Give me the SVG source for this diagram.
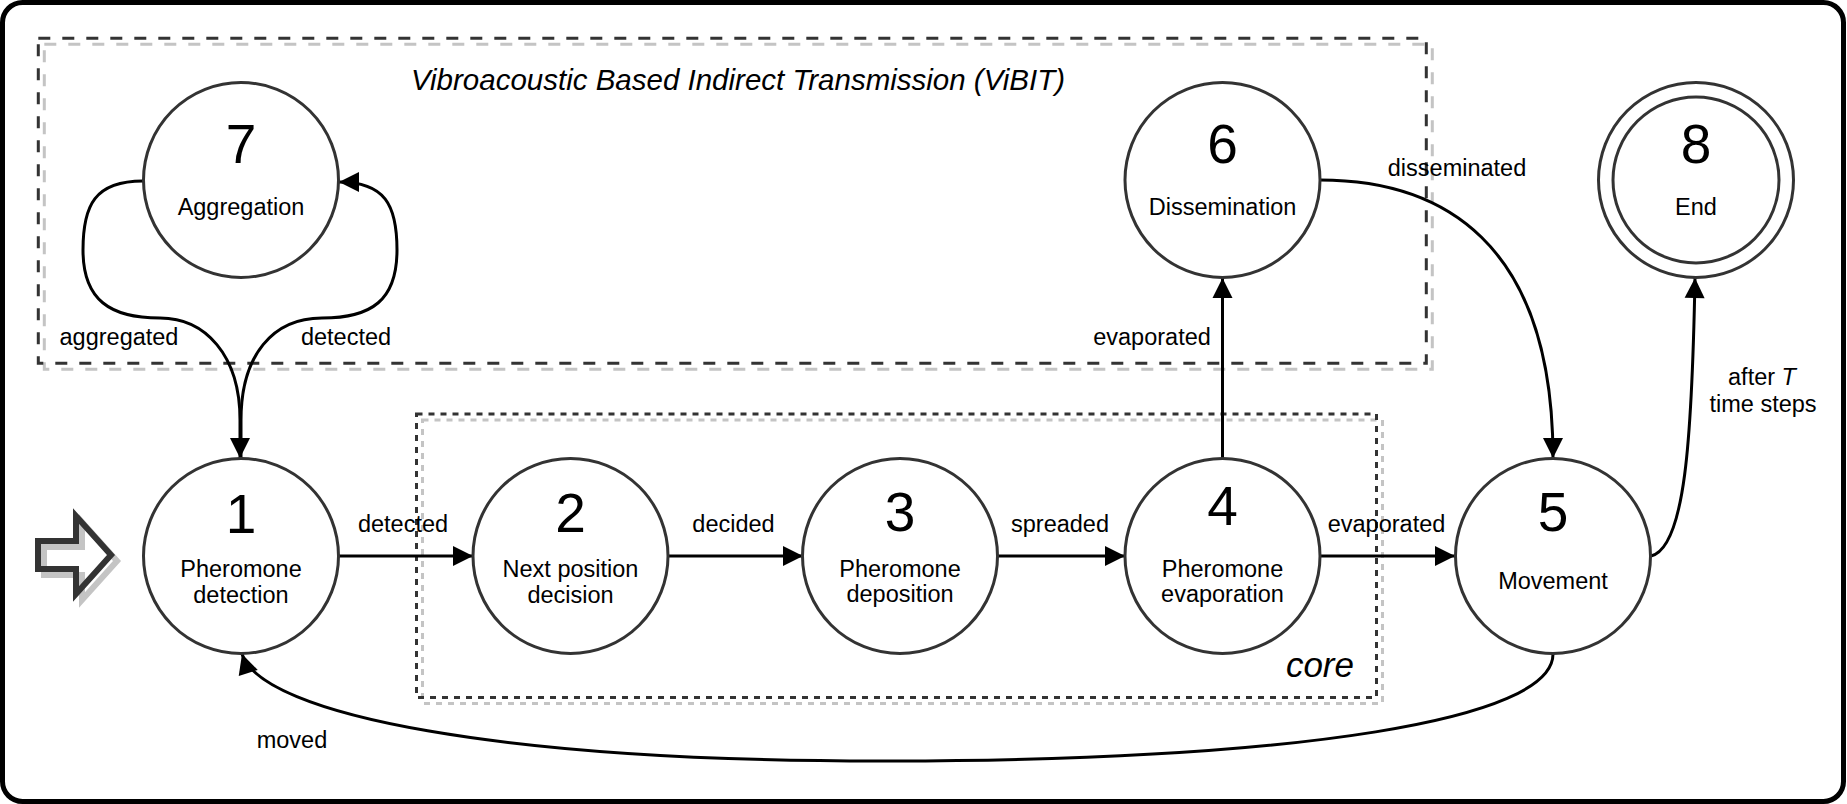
<svg xmlns="http://www.w3.org/2000/svg" width="1847" height="804" viewBox="0 0 1847 804">
<style>
text{font-family:"Liberation Sans",Arial,sans-serif;fill:#000}
.num{font-size:55px;text-anchor:middle}
.lbl{font-size:23.5px;text-anchor:middle}
.el{font-size:23.5px;text-anchor:middle}
.st{fill:#fff;stroke:#333;stroke-width:3}
.edge{fill:none;stroke:#000;stroke-width:3}
.arr{marker-end:url(#ah)}
.shadow{fill:none;stroke:#c4c4c4;stroke-width:3}
.ital{font-style:italic}
</style>
<defs>
<marker id="ah" markerUnits="userSpaceOnUse" markerWidth="22" markerHeight="22" refX="20" refY="10" orient="auto" overflow="visible">
<path d="M0,0 L20,10 L0,20 Z" fill="#000"/>
</marker>
</defs>
<rect x="2.5" y="2.5" width="1841" height="799" rx="20" fill="#fff" stroke="#000" stroke-width="5"/>

<g id="group-vibit">
<rect class="shadow" x="44.3" y="44.3" width="1388" height="325" stroke-dasharray="12 12"/>
<rect x="38.3" y="38.3" width="1388" height="325" fill="none" stroke="#333" stroke-width="3" stroke-dasharray="12 12"/>
<text x="738" y="90" class="ital" font-size="29.5" text-anchor="middle">Vibroacoustic Based Indirect Transmission (ViBIT)</text>
</g>

<g id="group-core">
<rect class="shadow" x="422.5" y="420" width="960" height="283.5" stroke-dasharray="6 6"/>
<rect x="416.5" y="414" width="960" height="283.5" fill="none" stroke="#333" stroke-width="3" stroke-dasharray="6 6"/>
<text x="1354" y="677" class="ital" font-size="35" text-anchor="end">core</text>
</g>

<g id="start-arrow">
<polygon points="44,547 82,547 82,522 117,561 82,600 82,575 44,575" fill="none" stroke="#c4c4c4" stroke-width="6"/>
<polygon points="38,541 76,541 76,516 111,555 76,594 76,569 38,569" fill="none" stroke="#333" stroke-width="6"/>
</g>

<g id="connectors">
<path class="edge arr" d="M143,181 C95,181 83,205 83,250 C83,300 110,318 160,318 C205,318 240,355 240,420 L240,458"/>
<path class="edge arr" d="M241,458 L241,420 C241,355 273,318 322,318 C372,318 397,300 397,250 C397,205 385,182 339,182"/>
<path class="edge arr" d="M338,556 L473,556"/>
<path class="edge arr" d="M668,556 L803,556"/>
<path class="edge arr" d="M998,556 L1125,556"/>
<path class="edge arr" d="M1320,556 L1455,556"/>
<path class="edge arr" d="M1222.5,458 L1222.5,278"/>
<path class="edge arr" d="M1320,180 C1440,180 1553,240 1553,458"/>
<path class="edge arr" d="M1651,556 C1685,548 1692,440 1695,278"/>
<path class="edge arr" d="M1553,654 C1553,720 1300,760 893,761 C500,762 262,715 242,654"/>
<text class="el" x="119" y="345">aggregated</text>
<text class="el" x="346" y="345">detected</text>
<text class="el" x="403" y="532">detected</text>
<text class="el" x="733.5" y="532">decided</text>
<text class="el" x="1060" y="532">spreaded</text>
<text class="el" x="1386.5" y="532">evaporated</text>
<text class="el" x="1152" y="345">evaporated</text>
<text class="el" x="1457" y="176">disseminated</text>
<text class="el" x="1762" y="385">after <tspan class="ital">T</tspan></text>
<text class="el" x="1763" y="411.5">time steps</text>
<text class="el" x="292" y="748">moved</text>
</g>

<g id="node1">
<circle class="st" cx="241" cy="556" r="97.5"/>
<text class="num" x="241" y="533">1</text>
<text class="lbl" x="241" y="577">Pheromone</text>
<text class="lbl" x="241" y="603">detection</text>
</g>
<g id="node2">
<circle class="st" cx="570.5" cy="556" r="97.5"/>
<text class="num" x="570.5" y="532">2</text>
<text class="lbl" x="570.5" y="577">Next position</text>
<text class="lbl" x="570.5" y="602.5">decision</text>
</g>
<g id="node3">
<circle class="st" cx="900" cy="556" r="97.5"/>
<text class="num" x="900" y="531">3</text>
<text class="lbl" x="900" y="577">Pheromone</text>
<text class="lbl" x="900" y="602">deposition</text>
</g>
<g id="node4">
<circle class="st" cx="1222.5" cy="556" r="97.5"/>
<text class="num" x="1222.5" y="525">4</text>
<text class="lbl" x="1222.5" y="577">Pheromone</text>
<text class="lbl" x="1222.5" y="602">evaporation</text>
</g>
<g id="node5">
<circle class="st" cx="1553" cy="556" r="97.5"/>
<text class="num" x="1553" y="531">5</text>
<text class="lbl" x="1553" y="589">Movement</text>
</g>
<g id="node6">
<circle class="st" cx="1222.5" cy="180" r="97.5"/>
<text class="num" x="1222.5" y="163">6</text>
<text class="lbl" x="1222.5" y="215">Dissemination</text>
</g>
<g id="node7">
<circle class="st" cx="241" cy="180" r="97.5"/>
<text class="num" x="241" y="163">7</text>
<text class="lbl" x="241" y="215">Aggregation</text>
</g>
<g id="node8">
<circle class="st" cx="1696" cy="180" r="97.5"/>
<circle class="st" cx="1696" cy="180" r="83"/>
<text class="num" x="1696" y="163">8</text>
<text class="lbl" x="1696" y="215">End</text>
</g>
</svg>
